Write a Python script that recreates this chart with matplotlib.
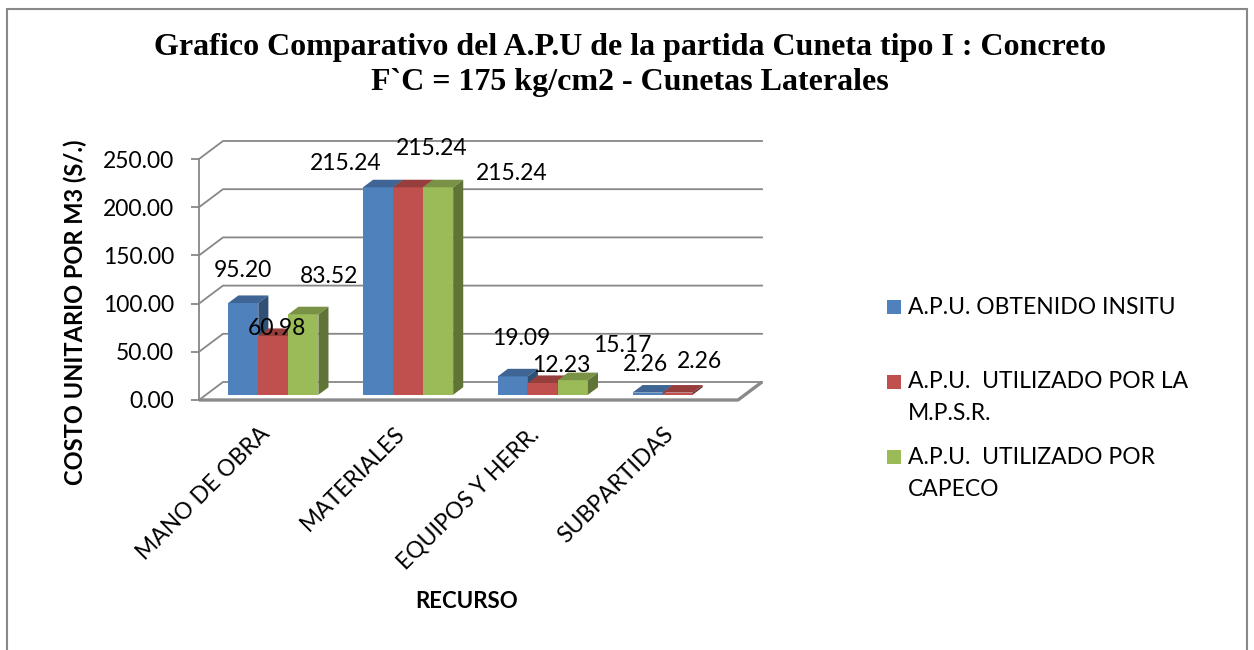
import numpy as np
import matplotlib
matplotlib.use('Agg')
import matplotlib.pyplot as plt
import matplotlib.colors as mcolors
from matplotlib.patches import Polygon, Rectangle

plt.rcParams['font.family'] = ['Lato', 'DejaVu Sans']

# Data
categories = ['MANO DE OBRA', 'MATERIALES', 'EQUIPOS Y HERR.', 'SUBPARTIDAS']
insitu = [95.20, 215.24, 19.09, 2.26]
mpsr = [60.98, 215.24, 12.23, 2.26]
capeco = [83.52, 215.24, 15.17, np.nan]
series_names = ['A.P.U. OBTENIDO INSITU',
                'A.P.U.  UTILIZADO POR LA\nM.P.S.R.',
                'A.P.U.  UTILIZADO POR\nCAPECO']
y_ticks = [0, 50, 100, 150, 200, 250]

colors = ['#4F81BD', '#C0504D', '#9BBB59']
# where Excel dropped each data label, pixels from the bar's front top centre
label_offsets = [
    [(0, 33), (-32, 24), (8, 38), (-2, 28)],
    [(4, 7), (24, 39), (18, 17), (22, 31)],
    [(26, 38), (74, 14), (49, 35), None],
]

W, H = 1254, 650
px_cat = 134.75          # pixels per category
px_val = 0.964           # pixels per unit of cost
DX = 24 / px_cat         # depth of the floor, in category units
DY = 18 / px_val         # depth of the floor, in value units
bar_w = 0.223
f_front, f_depth = 0.29, 0.42
ymin, ymax = -3, 270
xmin, xmax = -0.5, len(categories) - 0.5 + DX


def shade(c, k):
    r, g, b = mcolors.to_rgb(c)
    return (r * k, g * k, b * k)


fig = plt.figure(figsize=(W / 100, H / 100), dpi=100)
left_px, top_px = 199, 400 - ymax * px_val
bottom_px = 400 - ymin * px_val
ax = fig.add_axes([left_px / W, 1 - bottom_px / H,
                   (xmax - xmin) * px_cat / W, (bottom_px - top_px) / H])
ax.set_xlim(xmin, xmax)
ax.set_ylim(ymin, ymax)

grid_col = '#878787'
# walls: diagonal on the side wall, horizontal on the back wall
for t in y_ticks:
    ax.plot([xmin, xmin + DX, xmax], [t, t + DY, t + DY],
            color=grid_col, lw=1.3, zorder=1, clip_on=False)
# floor
n = len(categories)
ax.plot([xmin, n - 0.5, n - 0.5 + DX], [0, 0, DY],
        color='#8a8a8a', lw=2.4, zorder=1, clip_on=False, solid_capstyle='butt')

x = np.arange(n)
base = f_front * DY
series = [insitu, mpsr, capeco]
for k, vals in enumerate(series):
    xs = x + f_front * DX + (k - 1) * bar_w
    v = np.array(vals, dtype=float)
    bars = ax.bar(xs, np.nan_to_num(v), bar_w, bottom=base, color=colors[k],
                  linewidth=0, zorder=3 + k)
    for i, b in enumerate(bars):
        if np.isnan(v[i]):
            b.set_visible(False)
            continue
        x0, x1 = b.get_x(), b.get_x() + b.get_width()
        y0, y1 = base, base + v[i]
        ddx, ddy = f_depth * DX, f_depth * DY
        top = Polygon([(x0, y1), (x1, y1), (x1 + ddx, y1 + ddy), (x0 + ddx, y1 + ddy)],
                      closed=True, fc=shade(colors[k], 0.78), ec='none', zorder=3 + k)
        side = Polygon([(x1, y0), (x1 + ddx, y0 + ddy), (x1 + ddx, y1 + ddy), (x1, y1)],
                       closed=True, fc=shade(colors[k], 0.62), ec='none', zorder=3 + k)
        ax.add_patch(top)
        ax.add_patch(side)
        off = label_offsets[k][i]
        if off is not None:
            ax.annotate('%.2f' % v[i], ((x0 + x1) / 2, y1), xytext=off,
                        textcoords='offset pixels', ha='center', va='center',
                        fontsize=16.5, color='black', zorder=10)

# axes dressing
for s in ['top', 'right', 'bottom']:
    ax.spines[s].set_visible(False)
ax.spines['left'].set_bounds(0, 250)
ax.spines['left'].set_color(grid_col)
ax.spines['left'].set_linewidth(1.3)
ax.set_yticks(y_ticks)
ax.set_yticklabels(['%.2f' % t for t in y_ticks])
ax.tick_params(axis='y', direction='out', length=6, width=1.3, color=grid_col,
               labelsize=16.5, pad=12)
ax.set_xticks(x)
ax.set_xticklabels(categories, rotation=45, ha='right', va='center',
                   rotation_mode='anchor', fontsize=16.5)
ax.tick_params(axis='x', length=0, pad=20)
ax.patch.set_visible(False)

fig.text(630 / W, 1 - 65 / H,
         'Grafico Comparativo del A.P.U de la partida Cuneta tipo I : Concreto\n'
         'F`C = 175 kg/cm2 - Cunetas Laterales',
         family='Liberation Serif', fontweight='bold', fontsize=23,
         ha='center', va='center', linespacing=1.28)
fig.text(75 / W, 1 - 312 / H, 'COSTO UNITARIO POR M3 (S/.)', rotation=90,
         fontweight='bold', fontsize=17, ha='center', va='center')
fig.text(467 / W, 1 - 601 / H, 'RECURSO', fontweight='bold', fontsize=16,
         ha='center', va='center')

# legend laid out the way Excel spaced it
legend_rows = [307, 382, 457]
line_gap = 32
for c, name, row in zip(colors, series_names, legend_rows):
    fig.patches.append(Rectangle((887 / W, 1 - (row + 7) / H), 14 / W, 14 / H,
                                 transform=fig.transFigure, fc=c, ec='none'))
    for j, line in enumerate(name.split('\n')):
        fig.text(908 / W, 1 - (row + j * line_gap) / H, line, fontsize=16.5,
                 ha='left', va='center')

fig.patches.append(Rectangle((7 / W, -0.05), 1240 / W, 1.05 - 9 / H,
                             transform=fig.transFigure, fill=False,
                             ec='#888888', lw=1.5))

fig.savefig('out.png', dpi=100)
